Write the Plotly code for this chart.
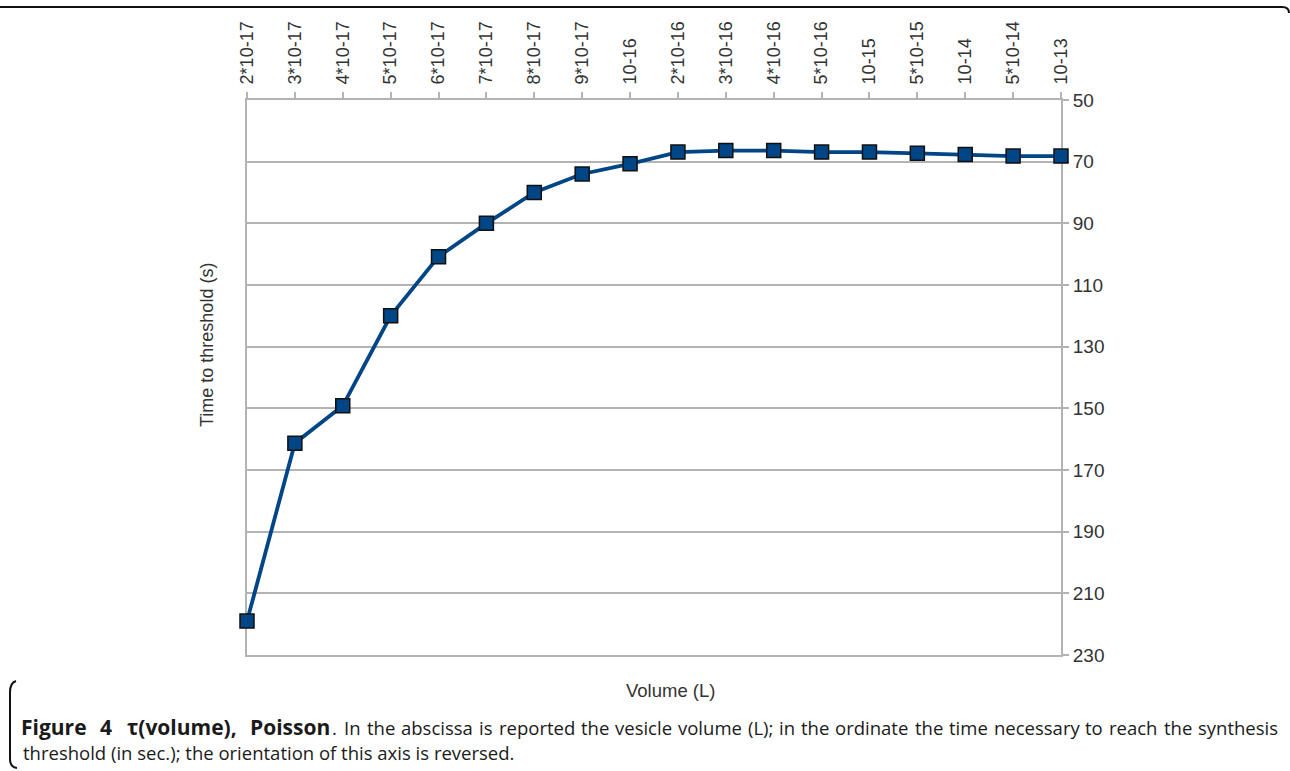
import plotly.graph_objects as go

# Vesicle volume (L) categories and time to threshold (s)
volumes = ["2*10-17", "3*10-17", "4*10-17", "5*10-17", "6*10-17", "7*10-17",
           "8*10-17", "9*10-17", "10-16", "2*10-16", "3*10-16", "4*10-16",
           "5*10-16", "10-15", "5*10-15", "10-14", "5*10-14", "10-13"]
time_to_threshold = [219.0, 161.3, 149.2, 120.0, 100.8, 90.0, 80.0, 74.0, 70.7,
                     66.9, 66.4, 66.4, 66.9, 66.9, 67.3, 67.7, 68.2, 68.2]
y_ticks = [50, 70, 90, 110, 130, 150, 170, 190, 210, 230]

W, H = 1290, 771
L, R, T, B = 247, 1061, 100, 655  # plot area in pixels


def px(x):
    return (x - L) / (R - L)


def py(y):
    return (B - y) / (B - T)


BLUE = "#004586"
GRID = "#b3b3b3"
TXT = "#333333"
CHART_FONT = "Liberation Sans, Arial, sans-serif"
CAP_FONT = "Open Sans, sans-serif"
CAP_COLOR = "#1a1a1a"

fig = go.Figure()
fig.add_trace(go.Scatter(
    x=volumes, y=time_to_threshold, mode="lines+markers",
    line=dict(color=BLUE, width=3.8),
    marker=dict(symbol="square", size=14, color=BLUE,
                line=dict(color="#111111", width=1.5)),
    cliponaxis=False, showlegend=False,
))

fig.update_xaxes(
    type="category", side="top", range=[0, len(volumes) - 1],
    showgrid=False, showline=True, linecolor=GRID, linewidth=2, mirror=True,
    ticks="outside", ticklen=6, tickcolor=GRID, tickwidth=2,
    tickangle=-90, ticklabelstandoff=4,
    tickfont=dict(family=CHART_FONT, size=18, color=TXT),
    zeroline=False, layer="below traces",
)
fig.update_yaxes(
    side="right", range=[230, 50], tickvals=y_ticks,
    showgrid=True, gridcolor=GRID, gridwidth=2,
    showline=True, linecolor=GRID, linewidth=2, mirror=True,
    ticks="outside", ticklen=6, tickcolor=GRID, tickwidth=2,
    tickfont=dict(family=CHART_FONT, size=19, color=TXT),
    zeroline=False, layer="below traces",
)

annotations = [
    dict(text="Volume (L)", x=px(670), y=py(690), xanchor="center", yanchor="middle",
         font=dict(family=CHART_FONT, size=18.5, color=TXT)),
    dict(text="Time to threshold (s)", x=px(207), y=py(345), xanchor="center",
         yanchor="middle", textangle=-90,
         font=dict(family=CHART_FONT, size=18, color=TXT)),
]

# Justified first caption line: each word placed at its own start position
bold_words = [("Figure", 19), ("4", 98), ("τ(volume),", 125), ("Poisson", 248)]
plain_words = [(".", 330), ("In", 342), ("the", 364.8), ("abscissa", 399.1),
               ("is", 477.1), ("reported", 496.6), ("the", 578.8), ("vesicle", 613.2),
               ("volume", 676.2), ("(L);", 746.3), ("in", 776.8), ("the", 798.9),
               ("ordinate", 833.2), ("the", 912.5), ("time", 946.9),
               ("necessary", 991.7), ("to", 1083.4), ("reach", 1107.2), ("the", 1161.6),
               ("synthesis", 1196)]
for word, x0 in bold_words:
    annotations.append(dict(text=f"<b>{word}</b>", x=px(x0), y=py(727), xanchor="left",
                            yanchor="middle",
                            font=dict(family=CAP_FONT, size=21, color=CAP_COLOR)))
for word, x0 in plain_words:
    annotations.append(dict(text=word, x=px(x0), y=py(727), xanchor="left",
                            yanchor="middle",
                            font=dict(family=CAP_FONT, size=18.5, color=CAP_COLOR)))
annotations.append(dict(text="threshold (in sec.); the orientation of this axis is reversed.",
                        x=px(21), y=py(752), xanchor="left", yanchor="middle",
                        font=dict(family=CAP_FONT, size=18.5, color=CAP_COLOR)))
for a in annotations:
    a.update(xref="paper", yref="paper", showarrow=False)

frame_top = f"M {px(0)},{py(7)} L {px(1282)},{py(7)} Q {px(1289)},{py(7)} {px(1289)},{py(13)}"
frame_left = (f"M {px(16)},{py(681)} Q {px(10)},{py(683)} {px(10)},{py(692)} "
              f"L {px(10)},{py(759)} Q {px(10)},{py(767)} {px(17)},{py(768)}")
shapes = [dict(type="path", path=p, xref="paper", yref="paper",
               line=dict(color="#111111", width=2)) for p in (frame_top, frame_left)]

fig.update_layout(
    width=W, height=H, autosize=False,
    margin=dict(l=L, r=W - R, t=T, b=H - B),
    paper_bgcolor="white", plot_bgcolor="white",
    annotations=annotations, shapes=shapes,
)

fig.write_html("out.html")
